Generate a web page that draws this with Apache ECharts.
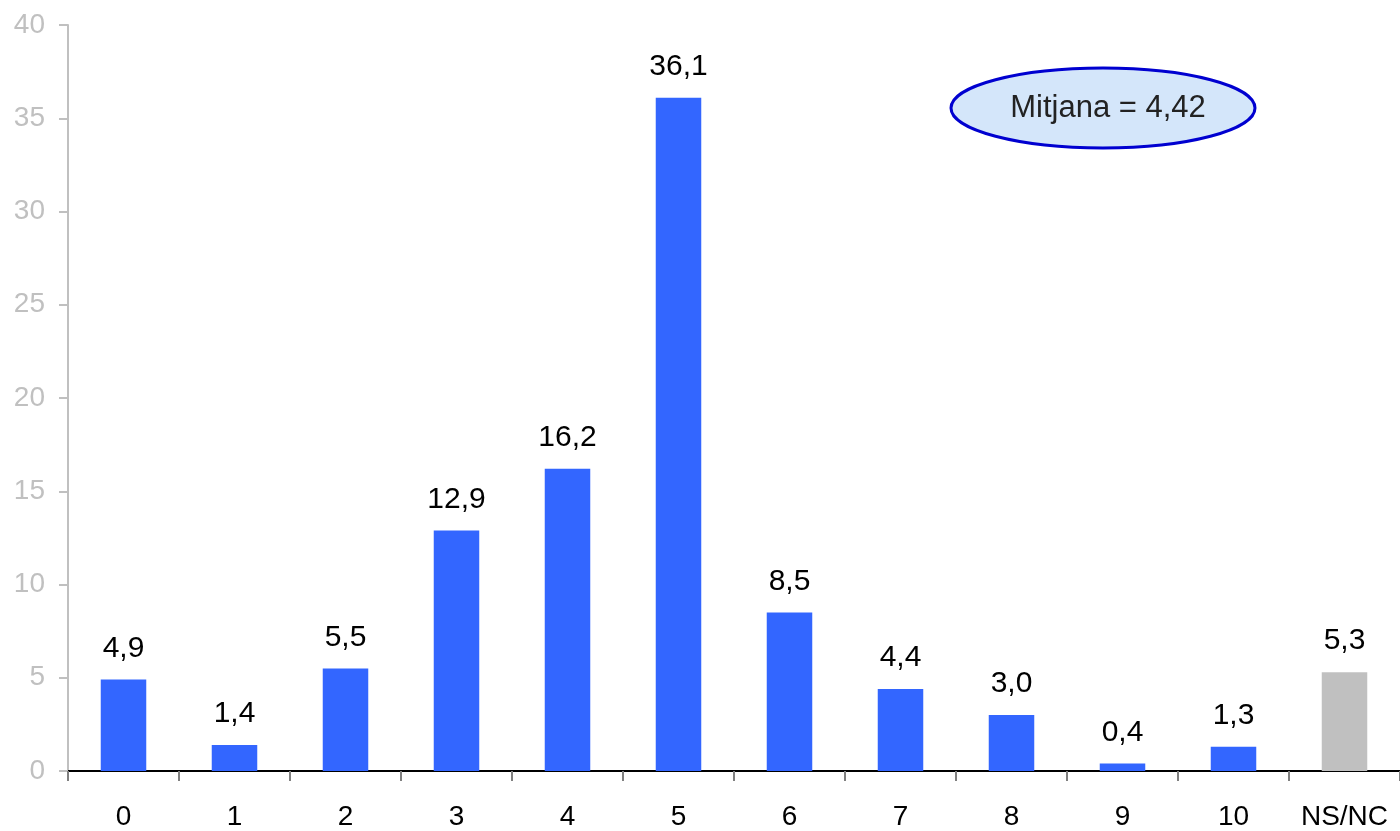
<!DOCTYPE html>
<html>
<head>
<meta charset="utf-8">
<script src="https://cdn.jsdelivr.net/npm/echarts@6/dist/echarts.min.js"></script>
<style>
  html, body { margin: 0; padding: 0; background: #fff; }
  #chart { width: 1400px; height: 831px; }
</style>
</head>
<body>
<div id="chart"></div>
<script>
  const categories = ['0', '1', '2', '3', '4', '5', '6', '7', '8', '9', '10', 'NS/NC'];
  const values = [4.9, 1.4, 5.5, 12.9, 16.2, 36.1, 8.5, 4.4, 3.0, 0.4, 1.3, 5.3];
  const meanText = 'Mitjana = 4,42';

  const font = 'Liberation Sans, Arial, sans-serif';
  const chart = echarts.init(document.getElementById('chart'));

  chart.setOption({
    animation: false,
    grid: { left: 68, right: 0, top: 25, bottom: 59, containLabel: false },
    xAxis: {
      type: 'category',
      data: categories,
      axisLine: { lineStyle: { color: '#000', width: 2 } },
      axisTick: { show: true, length: 10, lineStyle: { color: '#808080', width: 2 } },
      axisLabel: { color: '#000', fontSize: 28, fontFamily: font, margin: 32, interval: 0 }
    },
    yAxis: {
      type: 'value',
      min: 0,
      max: 40,
      interval: 5,
      splitLine: { show: false },
      axisLine: { show: true, lineStyle: { color: '#c0c0c0', width: 2 } },
      axisTick: { show: true, length: 9, lineStyle: { color: '#c0c0c0', width: 2 } },
      axisLabel: { color: '#c0c0c0', fontSize: 28, fontFamily: font, margin: 23 }
    },
    series: [{
      type: 'bar',
      barWidth: '41%',
      data: values.map((v, i) => ({
        value: v,
        itemStyle: { color: categories[i] === 'NS/NC' ? '#c0c0c0' : '#3366ff' }
      })),
      label: {
        show: true,
        position: 'top',
        distance: 16,
        color: '#000',
        fontSize: 30,
        fontFamily: font,
        formatter: p => p.value.toFixed(1).replace('.', ',')
      }
    }],
    graphic: [{
      type: 'ellipse',
      shape: { cx: 1103, cy: 108, rx: 152, ry: 40 },
      style: { fill: '#d4e6fa', stroke: '#0000d0', lineWidth: 3 }
    }, {
      type: 'text',
      x: 1108,
      y: 108,
      style: {
        text: meanText,
        fill: '#222',
        font: '31px ' + font,
        align: 'center',
        verticalAlign: 'middle'
      }
    }]
  });
</script>
</body>
</html>
